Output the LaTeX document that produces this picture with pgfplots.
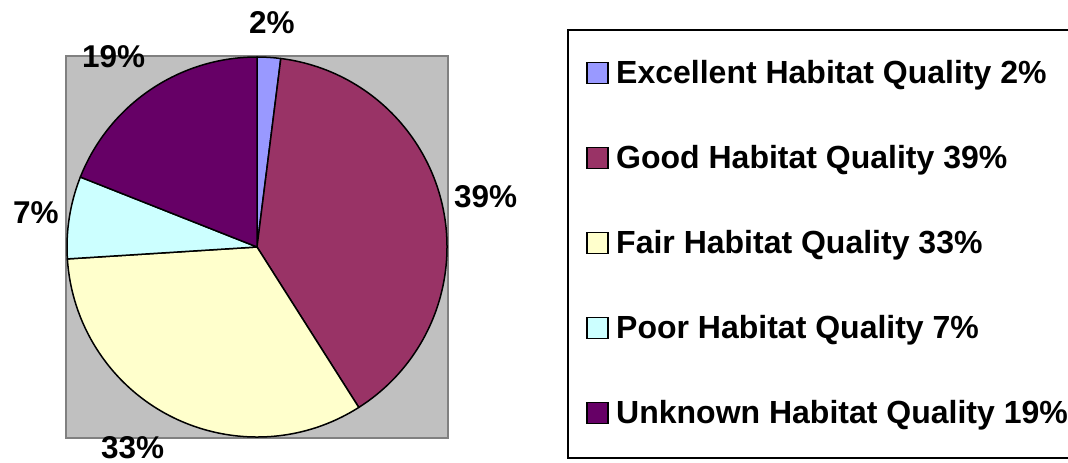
\documentclass[border=0pt]{standalone}
\usepackage{pgfplots}
\usepackage{pgfplotstable}
\pgfplotsset{compat=1.18}
\usepackage{fontspec}
\setmainfont{Liberation Sans}
\definecolor{c0}{HTML}{9999FF}
\definecolor{c1}{HTML}{993366}
\definecolor{c2}{HTML}{FFFFCC}
\definecolor{c3}{HTML}{CCFFFF}
\definecolor{c4}{HTML}{660066}
\definecolor{plotgray}{HTML}{C0C0C0}
\definecolor{bordergray}{HTML}{808080}

% share (percent), label position (left x, baseline y) in picture units
\pgfplotstableread{
idx value name lx ly
0 2 Excellent 249 429
1 39 Good 454 256
2 33 Fair 101 4.5
3 7 Poor 13 240
4 19 Unknown 82 395
}\piedata

\begin{document}
\begin{tikzpicture}
\path[use as bounding box] (0,0) rectangle (1068bp,463bp);
\begin{axis}[
  at={(0,0)}, anchor=south west,
  x=1bp, y=1bp,
  xmin=0, xmax=1068, ymin=0, ymax=463,
  hide axis, clip=false,
]
\addplot[draw=none] coordinates {(0,0) (1068,463)};
\pgfplotsextra{
  \fill[plotgray, draw=bordergray, line width=2bp] (axis cs:66,25) rectangle (axis cs:448,407);
  \xdef\startang{90}
  \foreach \i in {0,...,4}{
    \pgfplotstablegetelem{\i}{value}\of\piedata
    \pgfmathsetmacro\endang{\startang-3.6*\pgfplotsretval}
    \filldraw[fill=c\i, draw=black, line width=1.5bp, line join=round]
      (axis cs:257,216) -- ++(\startang:190bp)
      arc[start angle=\startang, end angle=\endang, radius=190bp] -- cycle;
    \xdef\startang{\endang}
  }
  \foreach \i in {0,...,4}{
    \pgfplotstablegetelem{\i}{value}\of\piedata
    \let\v\pgfplotsretval
    \pgfplotstablegetelem{\i}{lx}\of\piedata
    \let\lx\pgfplotsretval
    \pgfplotstablegetelem{\i}{ly}\of\piedata
    \let\ly\pgfplotsretval
    \node[anchor=base west, inner sep=0pt, font=\fontsize{31.5bp}{37bp}\selectfont\bfseries]
      at (axis cs:\lx,\ly) {\v\%};
  }
  % legend
  \draw[black, line width=1.5bp] (axis cs:1075,5) -- (axis cs:568,5) -- (axis cs:568,433) -- (axis cs:1075,433);
  \foreach \i in {0,...,4}{
    \pgfplotstablegetelem{\i}{value}\of\piedata
    \let\v\pgfplotsretval
    \pgfplotstablegetelem{\i}{name}\of\piedata
    \let\nm\pgfplotsretval
    \pgfmathsetmacro\by{379.7-85*\i}
    \filldraw[fill=c\i, draw=black, line width=1.5bp] (axis cs:587,\by) rectangle (axis cs:608,\by+21);
    \node[anchor=base west, inner sep=0pt, font=\fontsize{32bp}{37bp}\selectfont\bfseries]
      at (axis cs:616,\by) {\nm\ Habitat Quality \v\%};
  }
}
\end{axis}
\end{tikzpicture}
\end{document}
